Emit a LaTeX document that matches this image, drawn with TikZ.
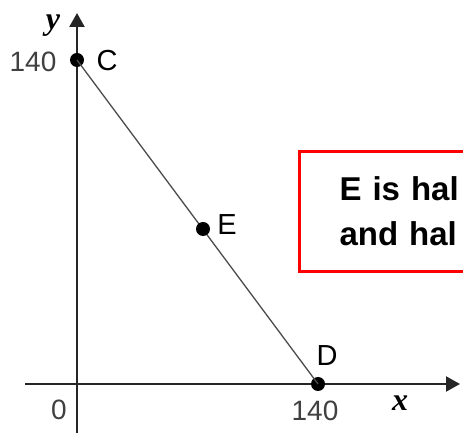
\documentclass[tikz,border=0pt]{standalone}
\usepackage{fontspec}
\setmainfont{Liberation Sans}
\newfontfamily\axisfont{Liberation Serif}
\usetikzlibrary{positioning,arrows.meta}
\tikzset{
  axisline/.style={-{Triangle[length=14pt, width=15pt]}, line width=2.2pt, black!85},
  segline/.style={line width=1.3pt, black!70},
  ptdot/.style={circle, fill=black, inner sep=0pt, minimum size=14pt},
  ptlabel/.style={font=\fontsize{29}{30}\selectfont, inner sep=0pt},
  ticklabel/.style={font=\fontsize{28}{30}\selectfont, text=black!75, inner sep=0pt},
  axislabel/.style={font=\axisfont\bfseries\itshape\fontsize{32}{34}\selectfont, inner sep=0pt},
  notebox/.style={draw=red, line width=3pt, anchor=north west, align=left, inner xsep=40pt,
    text width=260pt, minimum height=120pt, font=\bfseries\fontsize{33}{45}\selectfont}
}

\begin{document}
\begin{tikzpicture}[x=1pt, y=1pt]
  \useasboundingbox (0,0) rectangle (463,433);
  \clip (0,0) rectangle (463,433);
  \fill[white] (0,0) rectangle (463,433);
  % axes
  \coordinate (xstart) at (25,49);
  \coordinate (xend) at (460,49);
  \coordinate (ystart) at (77,0);
  \coordinate (yend) at (77,420);
  \draw[axisline] (xstart) -- (xend);
  \draw[axisline] (ystart) -- (yend);
  % points
  \node[ptdot] (C) at (77,373) {};
  \node[ptdot] (D) at (318,49) {};
  \draw[segline] (C.center) -- (D.center);
  \node[ptdot] (E) at (203,204) {};
  \node[ptlabel] (labC) at (107,372) {C};
  \node[ptlabel] (labD) at (327,77) {D};
  \node[ptlabel] (labE) at (227,208) {E};
  \node[ticklabel] (ytick) at (33,371) {140};
  \node[ticklabel] (xtick) at (315,22) {140};
  \node[ticklabel] (orig) at (59,23) {0};
  \node[axislabel] (ylab) at (53,407) {y};
  \node[axislabel] (xlab) at (400,30) {x};
  \node[notebox] (note) at (298,283) {E is hal\\and hal};
\end{tikzpicture}
\end{document}
